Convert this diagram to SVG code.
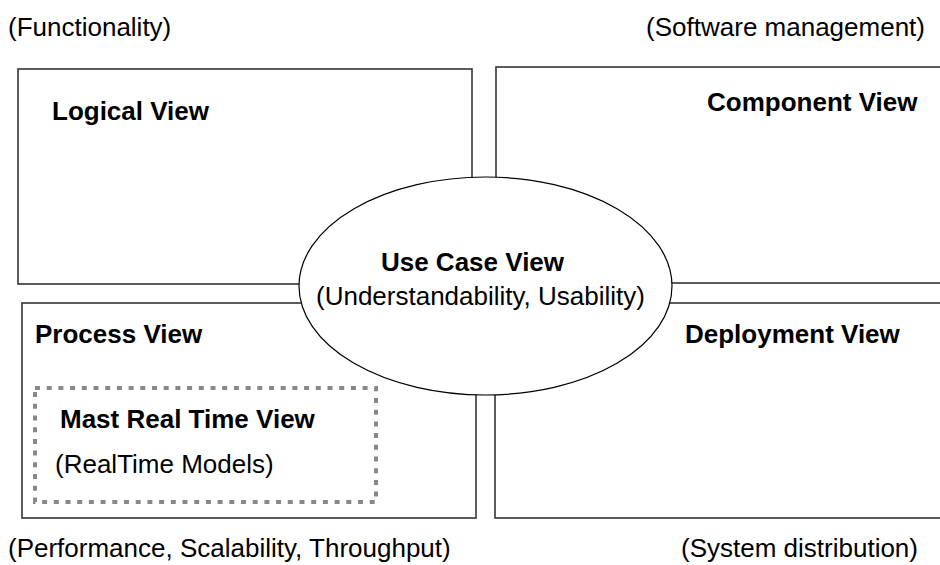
<svg xmlns="http://www.w3.org/2000/svg" width="940" height="565" viewBox="0 0 940 565">
<style>
  .box { fill: #ffffff; stroke: #404040; stroke-width: 1.7; }
  .oval { fill: #ffffff; stroke: #000000; stroke-width: 1.2; }
  .dash { fill: none; stroke: #888888; stroke-width: 4; stroke-dasharray: 5 6.7; }
  .t { font-family: "Liberation Sans", Arial, sans-serif; font-size: 26px; fill: #000000; }
  .b { font-weight: bold; }
</style>
<rect width="940" height="565" fill="#ffffff"/>
<g id="annotations">
  <text class="t" x="8" y="36">(Functionality)</text>
  <text class="t" x="925" y="36" text-anchor="end">(Software management)</text>
  <text class="t" x="8" y="557">(Performance, Scalability, Throughput)</text>
  <text class="t" x="918" y="557" text-anchor="end">(System distribution)</text>
</g>
<g id="logical-view">
  <rect class="box" x="18" y="69" width="454" height="215"/>
  <text class="t b" x="52" y="120">Logical View</text>
</g>
<g id="component-view">
  <rect class="box" x="496" y="67" width="460" height="216"/>
  <text class="t b" x="707" y="111">Component View</text>
</g>
<g id="process-view">
  <rect class="box" x="22" y="303" width="454" height="215"/>
  <text class="t b" x="35" y="343">Process View</text>
</g>
<g id="deployment-view">
  <rect class="box" x="495" y="303" width="460" height="215"/>
  <text class="t b" x="685" y="343">Deployment View</text>
</g>
<g id="mast-real-time-view">
  <rect class="dash" x="35" y="388" width="341" height="114"/>
  <text class="t b" x="60" y="428">Mast Real Time View</text>
  <text class="t" x="55" y="473">(RealTime Models)</text>
</g>
<g id="use-case-view">
  <ellipse class="oval" cx="485.5" cy="286" rx="186.5" ry="109"/>
  <text class="t b" x="472.5" y="271" text-anchor="middle">Use Case View</text>
  <text class="t" x="480.5" y="305" text-anchor="middle">(Understandability, Usability)</text>
</g>
<g id="connectors"></g>
</svg>
